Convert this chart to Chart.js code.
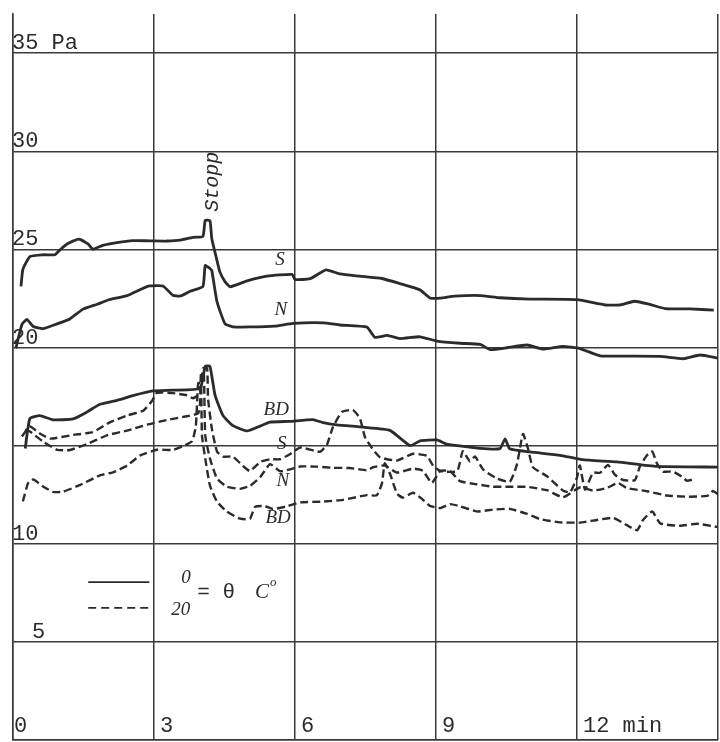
<!DOCTYPE html>
<html>
<head>
<meta charset="utf-8">
<title>Pa over min, 0 and 20 °C</title>
<script src="https://cdn.jsdelivr.net/npm/chart.js@4.4.0/dist/chart.umd.min.js"></script>
<style>
  html, body { margin: 0; padding: 0; background: #fff; }
  #wrap { width: 720px; height: 742px; }
</style>
</head>
<body>
<div id="wrap"><canvas id="chart" width="720" height="742"></canvas></div>
<script>
// tick values and labels
const xTicks      = [0, 3, 6, 9, 12];
const xTickLabels = ['0', '3', '6', '9', '12 min'];
const yTicks      = [35, 30, 25, 20, 10, 5];
const yTickLabels = ['35 Pa', '30', '25', '20', '10', '5'];
const yGrid       = [0, 5, 10, 15, 20, 25, 30, 35];

// series as [min, Pa] -- solid = 0 °C, dashed = 20 °C
const solidS = [
  [0.17,23.12],[0.21,23.98],[0.36,24.64],[0.64,24.73],[0.89,24.73],[1.00,24.98],[1.15,25.28],
  [1.40,25.53],[1.60,25.27],[1.70,25.01],[1.91,25.21],[2.21,25.35],[2.55,25.45],[2.91,25.44],
  [3.28,25.43],[3.55,25.47],[3.83,25.62],[4.04,25.66],[4.09,26.48],[4.19,26.47],[4.23,25.55],
  [4.32,24.64],[4.40,23.87],[4.51,23.36],[4.62,23.10],[4.98,23.40],[5.40,23.64],[5.94,23.73],
  [6.00,23.47],[6.32,23.51],[6.66,23.96],[6.96,23.75],[7.38,23.64],[7.85,23.52],[8.23,23.26],
  [8.66,22.94],[8.87,22.53],[9.09,22.52],[9.40,22.62],[9.94,22.65],[10.36,22.54],[11.00,22.47],
  [12.00,22.44],[12.60,22.17],[12.91,22.17],[13.23,22.36],[13.55,22.20],[13.87,21.99],
  [14.40,21.97],[14.91,21.91]
];
const solidN = [
  [0.06,19.96],[0.19,21.18],[0.30,21.43],[0.43,21.07],[0.64,20.96],[0.94,21.21],[1.21,21.46],
  [1.49,21.96],[1.79,22.21],[2.06,22.45],[2.43,22.65],[2.70,22.95],[2.91,23.14],[3.19,23.14],
  [3.40,22.67],[3.55,22.62],[3.77,22.87],[4.04,23.11],[4.09,24.18],[4.19,24.03],[4.23,23.92],
  [4.34,22.34],[4.51,21.22],[4.68,21.06],[5.04,21.05],[5.57,21.09],[5.96,21.23],[6.60,21.26],
  [6.96,21.15],[7.53,21.04],[7.70,20.52],[7.96,20.62],[8.23,20.46],[8.66,20.55],[9.02,20.33],
  [9.51,20.22],[9.94,20.16],[10.15,19.90],[10.51,19.99],[10.94,20.13],[11.28,19.92],
  [11.70,20.06],[12.06,19.95],[12.49,19.58],[13.06,19.56],[13.77,19.55],[14.26,19.43],
  [14.62,19.62],[15.00,19.46]
];
const solidBD = [
  [0.26,14.86],[0.36,16.39],[0.57,16.53],[0.85,16.32],[1.28,16.36],[1.57,16.71],[1.85,17.11],
  [2.21,17.31],[2.55,17.55],[2.98,17.79],[3.40,17.83],[3.98,17.92],[4.09,19.04],[4.19,19.04],
  [4.30,17.56],[4.47,16.53],[4.68,16.02],[4.98,15.75],[5.21,15.95],[5.47,16.20],[5.89,16.24],
  [6.38,16.33],[6.60,16.17],[6.89,16.06],[7.45,15.94],[8.02,15.78],[8.45,15.00],[8.66,15.25],
  [9.02,15.29],[9.23,15.08],[9.94,14.86],[10.36,14.85],[10.47,15.35],[10.57,14.84],
  [11.00,14.68],[11.64,14.51],[12.11,14.29],[12.85,14.17],[13.70,13.94],[15.00,13.91]
];
const dashS = [
  [0.19,15.47],[0.36,15.98],[0.57,15.62],[0.79,15.36],[1.28,15.55],[1.70,15.69],[2.06,16.19],
  [2.43,16.54],[2.77,16.78],[2.96,17.29],[3.06,17.69],[3.40,17.68],[3.70,17.57],[3.83,17.42],
  [3.98,17.67],[4.04,18.94],[4.13,18.94],[4.15,17.41],[4.23,15.88],[4.34,14.70],[4.47,14.44],
  [4.68,14.44],[4.89,13.97],[5.04,13.71],[5.26,14.17],[5.47,14.31],[5.68,14.31],[5.89,14.56],
  [6.11,14.91],[6.53,14.69],[6.68,15.05],[6.81,15.96],[7.00,16.72],[7.23,16.82],[7.38,16.40],
  [7.49,15.43],[7.64,14.87],[7.81,14.41],[8.17,14.24],[8.51,14.59],[8.81,14.48],[8.94,13.97],
  [9.09,13.71],[9.45,13.70],[9.57,14.72],[9.72,14.20],[9.83,14.45],[10.00,13.79],[10.30,13.32],
  [10.57,13.16],[10.72,14.02],[10.85,15.60],[10.96,14.83],[11.06,13.91],[11.36,13.44],
  [11.70,12.72],[11.85,12.62],[12.00,13.38],[12.06,13.99],[12.17,12.76],[12.34,13.62],
  [12.49,13.62],[12.66,14.02],[12.81,13.51],[12.98,13.25],[13.23,13.24],[13.34,13.95],
  [13.49,14.51],[13.60,14.71],[13.70,14.10],[13.83,13.68],[14.04,13.68],[14.23,13.42],
  [14.34,13.21],[14.51,13.31]
];
const dashN = [
  [0.26,15.83],[0.36,15.72],[0.64,15.21],[0.94,14.79],[1.21,14.78],[1.57,15.08],[2.00,15.53],
  [2.43,15.77],[2.85,16.07],[3.28,16.31],[3.70,16.50],[3.94,16.65],[3.98,17.16],[4.00,18.68],
  [4.06,18.68],[4.09,15.52],[4.19,14.35],[4.34,13.33],[4.55,12.91],[4.83,12.80],[5.04,12.95],
  [5.26,13.40],[5.47,14.06],[5.68,13.70],[5.89,13.79],[6.11,13.94],[6.47,13.93],[6.81,13.87],
  [7.17,13.86],[7.53,13.75],[7.66,13.90],[7.91,13.99],[8.17,13.63],[8.51,13.83],[8.72,13.72],
  [8.91,13.10],[9.09,13.71],[9.30,13.70],[9.51,13.19],[9.87,13.03],[10.21,12.91],[10.57,12.91],
  [10.94,12.90],[11.36,12.73],[11.70,12.37],[12.06,12.87],[12.34,12.71],[12.64,12.85],
  [12.87,13.10],[13.06,12.84],[13.49,12.68],[13.91,12.46],[14.34,12.40],[14.77,12.44],
  [14.89,12.69],[15.00,12.53]
];
const dashBD = [
  [0.21,12.16],[0.32,13.08],[0.43,13.28],[0.64,12.92],[0.85,12.65],[1.06,12.65],[1.43,13.00],
  [1.85,13.49],[2.13,13.64],[2.43,13.99],[2.70,14.49],[3.06,14.79],[3.40,14.78],[3.62,14.98],
  [3.81,15.23],[3.89,15.99],[3.94,18.18],[4.00,18.17],[4.02,15.53],[4.09,14.35],[4.19,12.97],
  [4.34,12.15],[4.55,11.64],[4.83,11.28],[5.04,11.27],[5.15,11.88],[5.36,11.92],[5.53,11.77],
  [5.83,11.91],[6.11,12.11],[6.60,12.15],[7.02,12.24],[7.53,12.48],[7.74,12.47],[7.85,13.08],
  [7.91,14.10],[8.02,13.58],[8.17,12.56],[8.30,12.35],[8.51,12.60],[8.70,12.29],[8.87,11.93],
  [9.09,11.82],[9.30,12.02],[9.51,11.91],[9.87,11.65],[10.21,11.74],[10.57,11.78],[10.94,11.52],
  [11.21,11.26],[11.64,11.09],[12.06,11.08],[12.34,11.18],[12.77,11.32],[13.06,10.95],
  [13.28,10.69],[13.40,11.20],[13.60,11.65],[13.77,11.04],[14.19,10.92],[14.55,11.02],
  [15.00,10.85]
];

const ink  = '#2b2b2b';
const grid = '#3a3a3a';

function series(points, dashed) {
  return {
    data: points.map(p => ({ x: p[0], y: p[1] })),
    borderColor: ink,
    borderWidth: dashed ? 2.4 : 2.8,
    borderDash: dashed ? [8, 4] : [],
    pointRadius: 0,
    tension: 0.15,
    fill: false
  };
}

// tick labels, curve names, Stopp and the legend, all placed through the scales
const textPlugin = {
  id: 'texts',
  afterDraw(chart) {
    const { ctx, scales: { x, y } } = chart;
    const px = v => x.getPixelForValue(v);
    const py = v => y.getPixelForValue(v);
    ctx.save();
    ctx.fillStyle = ink;
    ctx.strokeStyle = ink;
    ctx.textAlign = 'left';
    ctx.textBaseline = 'alphabetic';

    ctx.font = '22px "Liberation Mono"';
    yTicks.forEach((v, i) => {
      const indent = v === 5 ? 20 : 0;
      ctx.fillText(yTickLabels[i], px(0) - 1 + indent, py(v) - 4);
    });
    xTicks.forEach((v, i) => {
      ctx.fillText(xTickLabels[i], px(v) + (v === 0 ? 1 : 6), py(0) - 8);
    });

    // curve names
    ctx.font = 'italic 19px "Liberation Serif"';
    ctx.textAlign = 'center';
    ctx.textBaseline = 'middle';
    [['S', 5.68, 24.46], ['N', 5.70, 21.92], ['BD', 5.60, 16.82],
     ['S', 5.72, 15.09], ['N', 5.74, 13.20], ['BD', 5.64, 11.31]].forEach(l => {
      ctx.fillText(l[0], px(l[1]), py(l[2]));
    });

    // Stopp, written upwards along the spike
    ctx.save();
    ctx.translate(px(4.25), py(28.45));
    ctx.rotate(-Math.PI / 2);
    ctx.font = 'italic 20px "Liberation Mono"';
    ctx.fillText('Stopp', 0, 0);
    ctx.restore();

    // legend
    ctx.lineWidth = 1.8;
    ctx.beginPath();
    ctx.moveTo(px(1.6), py(8.05));
    ctx.lineTo(px(2.9), py(8.05));
    ctx.stroke();
    ctx.setLineDash([8, 5]);
    ctx.beginPath();
    ctx.moveTo(px(1.6), py(6.73));
    ctx.lineTo(px(2.9), py(6.73));
    ctx.stroke();
    ctx.setLineDash([]);
    ctx.font = 'italic 19px "Liberation Serif"';
    ctx.fillText('0', px(3.68), py(8.25));
    ctx.fillText('20', px(3.57), py(6.6));
    ctx.textAlign = 'left';
    ctx.font = '21px "Liberation Mono"';
    ctx.fillText('= θ', px(3.92), py(7.5));
    ctx.font = 'italic 21px "Liberation Serif"';
    ctx.fillText('C', px(5.15), py(7.5));
    ctx.font = 'italic 13px "Liberation Serif"';
    ctx.fillText('o', px(5.47), py(8.0));
    ctx.restore();
  }
};

const chart = new Chart(document.getElementById('chart'), {
  type: 'line',
  data: {
    datasets: [
      series(solidS, false), series(solidN, false), series(solidBD, false),
      series(dashS, true), series(dashN, true), series(dashBD, true)
    ]
  },
  options: {
    responsive: false,
    animation: false,
    layout: { padding: { left: 13, right: 2, top: 14, bottom: 2 } },
    plugins: { legend: { display: false }, tooltip: { enabled: false } },
    scales: {
      x: {
        type: 'linear',
        min: 0,
        max: 15,
        ticks: { stepSize: 3, display: false },
        grid: { color: grid, lineWidth: 1.5, drawTicks: false },
        border: { color: grid, width: 1.5 }
      },
      y: {
        type: 'linear',
        min: 0,
        max: 37,
        afterBuildTicks: scale => { scale.ticks = yGrid.map(v => ({ value: v })); },
        ticks: { display: false },
        grid: { color: grid, lineWidth: 1.5, drawTicks: false },
        border: { color: grid, width: 1.5 }
      }
    }
  },
  plugins: [textPlugin]
});
</script>
</body>
</html>
